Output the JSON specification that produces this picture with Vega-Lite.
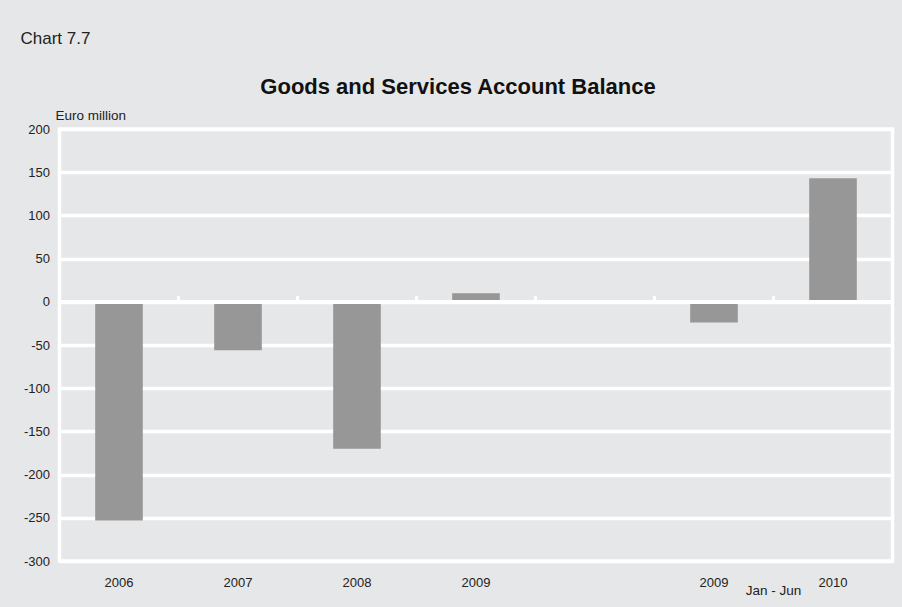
{
  "$schema": "https://vega.github.io/schema/vega-lite/v6.json",
  "width": 833,
  "height": 432,
  "autosize": {"type": "none"},
  "padding": {"left": 59.5, "top": 129, "right": 9.5, "bottom": 46},
  "background": "#e6e7e8",
  "title": {
    "text": "Goods and Services Account Balance",
    "anchor": "middle",
    "frame": "group",
    "dx": -18,
    "dy": 87,
    "offset": 0,
    "baseline": "alphabetic",
    "fontSize": 22,
    "fontWeight": "bold",
    "color": "#111111",
    "font": "Liberation Sans"
  },
  "config": {
    "font": "Liberation Sans",
    "view": {"stroke": "white", "strokeWidth": 3.5, "fill": "#e6e7e8"}
  },
  "data": {
    "values": [
      {"cat": "2006", "value": -253},
      {"cat": "2007", "value": -56},
      {"cat": "2008", "value": -170},
      {"cat": "2009", "value": 10},
      {"cat": "gap", "value": null},
      {"cat": "2009 H1", "value": -24},
      {"cat": "2010 H1", "value": 143}
    ]
  },
  "layer": [
    {
      "mark": {"type": "bar", "color": "#979797", "width": {"band": 0.4}},
      "encoding": {
        "x": {
          "field": "cat",
          "type": "nominal",
          "scale": {"domain": ["2006", "2007", "2008", "2009", "gap", "2009 H1", "2010 H1"], "paddingInner": 0, "paddingOuter": 0},
          "axis": {
            "title": "Chart 7.7",
            "titleFontSize": 17,
            "titleFontWeight": "normal",
            "titleColor": "#222222",
            "titleAlign": "left",
            "titleAnchor": null,
            "titleBaseline": "alphabetic",
            "titleX": -39.5,
            "titleY": -518,
            "labelExpr": "datum.value == 'gap' ? '' : slice(datum.value, 0, 4)",
            "labelAngle": 0,
            "labelFontSize": 13,
            "labelColor": "#222222",
            "labelPadding": 15,
            "ticks": false,
            "domain": false,
            "grid": false
          }
        },
        "y": {
          "field": "value",
          "type": "quantitative",
          "scale": {"domain": [-300, 200], "nice": false, "zero": false},
          "axis": {
            "title": "Euro million",
            "titleFontSize": 13.5,
            "titleFontWeight": "normal",
            "titleColor": "#222222",
            "titleAngle": 0,
            "titleAlign": "left",
            "titleAnchor": null,
            "titleBaseline": "alphabetic",
            "titleX": -4.5,
            "titleY": -9.5,
            "values": [-300, -250, -200, -150, -100, -50, 0, 50, 100, 150, 200],
            "labelExpr": "'' + datum.value",
            "labelFontSize": 13,
            "labelColor": "#222222",
            "labelPadding": 10,
            "ticks": false,
            "domain": false,
            "grid": true,
            "gridColor": "white",
            "gridWidth": 3.5,
            "gridOpacity": 1
          }
        }
      }
    },
    {
      "mark": {"type": "rule", "color": "white", "strokeWidth": 3.5},
      "encoding": {"y": {"datum": 0}}
    },
    {
      "transform": [{"filter": "datum.cat != '2006'"}],
      "mark": {"type": "rule", "color": "white", "strokeWidth": 3},
      "encoding": {
        "x": {"field": "cat", "type": "nominal", "bandPosition": 0},
        "y": {"datum": 0},
        "y2": {"datum": 6.5}
      }
    },
    {
      "data": {"values": [{"cat": "2010 H1", "note": "Jan - Jun"}]},
      "mark": {"type": "text", "fontSize": 13.5, "color": "#222222", "baseline": "alphabetic", "align": "center", "dy": 34},
      "encoding": {
        "x": {"field": "cat", "type": "nominal", "bandPosition": 0},
        "y": {"datum": -300},
        "text": {"field": "note"}
      }
    }
  ]
}
